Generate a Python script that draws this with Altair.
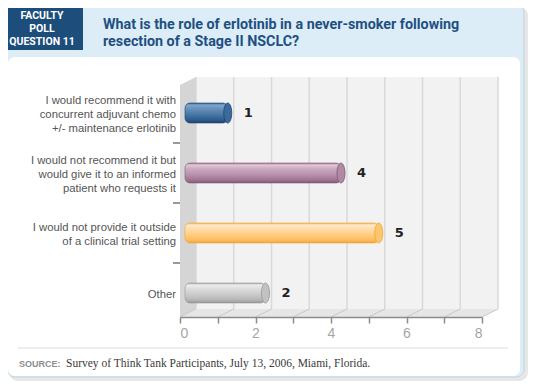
import altair as alt
import pandas as pd

# ---------------- data ----------------
categories = [
    "I would recommend it with\nconcurrent adjuvant chemo\n+/- maintenance erlotinib",
    "I would not recommend it but\nwould give it to an informed\npatient who requests it",
    "I would not provide it outside\nof a clinical trial setting",
    "Other",
]
votes = [1, 4, 5, 2]
x_ticks = [0, 1, 2, 3, 4, 5, 6, 7, 8]
header_lines = ["FACULTY", "POLL", "QUESTION 11"]
title_lines = [
    "What is the role of erlotinib in a never-smoker following",
    "resection of a Stage II NSCLC?",
]
source_label = "SOURCE:"
source_text = "Survey of Think Tank Participants, July 13, 2006, Miami, Florida."

# ---------------- styles ----------------
bar_stops = [
    ["#2F5D8C", "#7FA5CB", "#6690BB", "#4674A4", "#2D5B8B", "#1D456F"],
    ["#9E7593", "#E0C8D8", "#CBA9C0", "#B690AA", "#9E7493", "#835875"],
    ["#F5B04D", "#FFEBCB", "#FFDDA8", "#FFCD82", "#FDBC5E", "#F1A53A"],
    ["#A9A9A9", "#EDEDED", "#DCDCDC", "#C9C9C9", "#B5B5B5", "#979797"],
]
stop_offsets = [0, 0.1, 0.3, 0.6, 0.85, 1]
cap_fill = ["#3C6A9A", "#B08AA5", "#FDC56C", "#C2C2C2"]
cap_stroke = ["#1D456F", "#835875", "#F1A53A", "#979797"]

df = pd.DataFrame({
    "category": categories,
    "votes": votes,
    "zero": [0] * len(votes),
    "idx": list(range(len(votes))),
})
ticks_df = pd.DataFrame({"k": x_ticks})
one = pd.DataFrame({"a": [0]})

x_scale = alt.Scale(domain=[0, 8], nice=False)
x_axis = alt.Axis(
    values=x_ticks, title=None, grid=False, offset=-6, zindex=1,
    labelExpr="datum.value % 2 == 0 ? datum.label : ''",
    tickSize=6, tickWidth=1.5, tickColor="#8C8C8C",
    domainColor="#8C8C8C", domainWidth=1.5,
    labelColor="#A5A5A5", labelFont="Liberation Sans", labelFontSize=14,
    labelPadding=3,
)
y_scale = alt.Scale(domain=categories, paddingInner=0, paddingOuter=0)
y_axis = alt.Axis(title=None, domain=False, ticks=False, grid=False, labels=False)
Y = alt.Y("category:N", scale=y_scale, axis=y_axis, sort=categories)


def rect(x1, x2, y1, y2, **kw):
    return alt.Chart(one).mark_rect(**kw).encode(
        x=alt.value(x1), x2=alt.value(x2), y=alt.value(y1), y2=alt.value(y2)
    )


def poly(path, fill):
    return alt.Chart(one).mark_point(
        shape=path, size=4, filled=True, fill=fill, opacity=1, strokeWidth=0
    ).encode(x=alt.value(0), y=alt.value(0))


layers = []
# card frame
layers.append(rect(-171, 348, -76, 298, fill="#CFCFCF", opacity=0.5, cornerRadius=9))
layers.append(rect(-173, 344, -79, 294, fill="#DCEDF8", stroke="#C3D3DF", strokeWidth=1, cornerRadius=8))
layers.append(rect(-172, 340, -26, 293, fill="#FFFFFF", cornerRadius=7))
layers.append(rect(-178, -97, -78, -33, fill="#1D4E7B"))
layers.append(
    alt.Chart(one).mark_text(
        text=header_lines, font="Roboto", fontWeight="bold",
        fontSize=10.5, color="#FFFFFF", align="center", baseline="middle", lineHeight=13,
    ).encode(x=alt.value(-138), y=alt.value(-67.5))
)
layers.append(
    alt.Chart(one).mark_text(
        text=title_lines, font="Roboto", fontWeight="bold",
        fontSize=14.3, color="#1F5082", align="left", baseline="alphabetic", lineHeight=16.5,
    ).encode(x=alt.value(-77), y=alt.value(-54))
)

# 3D frame
layers.append(rect(16, 318, -6, 226, fill="#F2F2F2"))
layers.append(
    alt.Chart(ticks_df).mark_rule(xOffset=16, color="#D9D9D9", strokeWidth=1.5).encode(
        x=alt.X("k:Q", scale=x_scale, axis=x_axis), y=alt.value(-6), y2=alt.value(226)
    )
)
layers.append(poly("M0,2L16,-6L16,226L0,234Z", "#D5D5D5"))
layers.append(poly("M0,234L16,226L318,226L302,234Z", "#E6E6E6"))
layers.append(
    alt.Chart(ticks_df).mark_rule(x2Offset=16, color="#C8C8C8", strokeWidth=1).encode(
        x=alt.X("k:Q", scale=x_scale, axis=x_axis), x2="k:Q",
        y=alt.value(234), y2=alt.value(226)
    )
)
# band ticks on the left wall
layers.append(
    alt.Chart(df).transform_filter("datum.idx > 0").mark_rule(
        yOffset=-30, color="#777777", strokeWidth=1.5
    ).encode(y=Y, x=alt.value(-7), x2=alt.value(0))
)

# category labels (multi-line, centred on the band)
lab = alt.Chart(df).transform_calculate(
    lines="split(datum.category, '\\n')"
).transform_calculate(n="length(datum.lines)")
for nl in (1, 2, 3):
    layers.append(
        lab.transform_filter(f"datum.n == {nl}").mark_text(
            align="right", baseline="middle", font="Liberation Sans", fontSize=11.3,
            color="#555555", lineHeight=14, yOffset=-(nl - 1) * 7 + 2,
        ).encode(y=Y, x=alt.value(-4), text="lines:N")
    )

# bars
for i in range(len(categories)):
    grad = alt.Gradient(
        gradient="linear", x1=0, x2=0, y1=0, y2=1,
        stops=[alt.GradientStop(color=c, offset=o) for c, o in zip(bar_stops[i], stop_offsets)],
    )
    base = alt.Chart(df).transform_filter(f"datum.idx == {i}")
    layers.append(
        base.mark_bar(
            size=20, fill=grad, stroke=cap_stroke[i], strokeWidth=0.6,
            cornerRadius=5, xOffset=5, x2Offset=10,
        ).encode(
            x=alt.X("zero:Q", scale=x_scale, axis=x_axis), x2="votes:Q", y=Y
        )
    )
    layers.append(
        base.mark_point(
            shape="M0,-1 A0.4,1 0 1,1 0,1 A0.4,1 0 1,1 0,-1 Z", size=400,
            filled=True, fill=cap_fill[i], stroke=cap_stroke[i], strokeWidth=0.8,
            opacity=1, xOffset=10,
        ).encode(x=alt.X("votes:Q", scale=x_scale, axis=x_axis), y=Y)
    )

layers.append(
    alt.Chart(df).mark_text(
        align="left", baseline="middle", xOffset=26, font="DejaVu Sans",
        fontWeight="bold", fontSize=13, color="#222222",
    ).encode(x=alt.X("votes:Q", scale=x_scale, axis=x_axis), y=Y, text="votes:Q")
)

# footer
layers.append(
    alt.Chart(one).mark_rule(color="#DCDCDC", strokeWidth=1).encode(
        x=alt.value(-162), x2=alt.value(328), y=alt.value(265)
    )
)
layers.append(
    alt.Chart(one).mark_text(
        text=source_label, font="Liberation Sans", fontWeight="bold", fontSize=9,
        color="#8C8C8C", align="left", baseline="alphabetic",
    ).encode(x=alt.value(-161), y=alt.value(284))
)
layers.append(
    alt.Chart(one).mark_text(
        text=source_text, font="Liberation Serif", fontSize=11.5,
        color="#3A3A3A", align="left", baseline="alphabetic",
    ).encode(x=alt.value(-114), y=alt.value(284))
)

chart = alt.layer(*layers).properties(
    width=302, height=240,
    autosize=alt.AutoSizeParams(type="none"),
    padding={"left": 172, "top": 75, "right": 50, "bottom": 59},
    background="#FFFFFF",
).configure_view(strokeWidth=0)

chart.save("out.html", embed_options={"renderer": "svg", "actions": False})
